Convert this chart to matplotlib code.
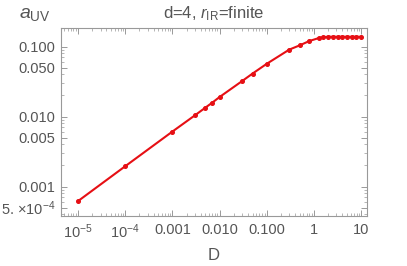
import matplotlib
matplotlib.use('Agg')
import matplotlib.pyplot as plt
import matplotlib.ticker as mticker
import numpy as np

# data
D = [1e-5, 1e-4, 1e-3, 3e-3, 5e-3, 7e-3, 0.01, 0.03, 0.05, 0.1, 0.3,
     0.5, 0.8, 1.26, 1.58, 2.0, 2.5, 3.16, 4.0, 5.0, 6.3, 7.9, 10]
aUV = [6.2e-4, 1.95e-3, 6.1e-3, 0.0104, 0.0134, 0.0158, 0.019, 0.0321, 0.0411,
       0.0567, 0.0904, 0.104, 0.12, 0.132, 0.136, 0.138, 0.138, 0.138, 0.138,
       0.138, 0.138, 0.138, 0.138]

xticks = [1e-5, 1e-4, 1e-3, 1e-2, 1e-1, 1, 10]
xticklabels = [r'$10^{-5}$', r'$10^{-4}$', '0.001', '0.010', '0.100', '1', '10']
yticks = [5e-4, 1e-3, 5e-3, 1e-2, 5e-2, 1e-1]
yticklabels = ['5. \u00d710$^{-4}$', '0.001', '0.005', '0.010', '0.050', '0.100']

plt.rcParams['font.family'] = ['Liberation Sans', 'DejaVu Sans']
plt.rcParams['mathtext.fontset'] = 'custom'
plt.rcParams['mathtext.rm'] = 'Liberation Sans'
plt.rcParams['mathtext.it'] = 'Liberation Sans:italic'

gray = '#999999'
txt = '#555555'

fig = plt.figure(figsize=(4.07, 2.66), dpi=100)
ax = fig.add_axes([0.150, 0.189, 0.752, 0.707])
ax.plot(D, aUV, color='#e60f14', lw=1.5, marker='o', ms=2.6)
ax.set_xscale('log')
ax.set_yscale('log')
ax.set_xlim(10**-5.36, 10**1.127)
ax.set_ylim(3.83e-4, 0.186)

ax.xaxis.set_major_locator(mticker.FixedLocator(xticks))
ax.xaxis.set_major_formatter(mticker.FixedFormatter(xticklabels))
ax.xaxis.set_minor_locator(mticker.LogLocator(subs=np.arange(2, 10), numticks=20))
ax.xaxis.set_minor_formatter(mticker.NullFormatter())
ax.yaxis.set_major_locator(mticker.FixedLocator(yticks))
ax.yaxis.set_major_formatter(mticker.FixedFormatter(yticklabels))
ax.yaxis.set_minor_locator(mticker.LogLocator(subs=np.arange(2, 10), numticks=20))
ax.yaxis.set_minor_formatter(mticker.NullFormatter())

for s in ax.spines.values():
    s.set_color(gray)
    s.set_linewidth(0.8)
ax.tick_params(which='both', direction='in', top=True, right=True,
               color=gray, labelcolor=txt, labelsize=10.5)
ax.tick_params(which='major', length=4, width=0.7, pad=5)
ax.tick_params(which='minor', length=2, width=0.5)
ax.tick_params(axis='y', which='major', pad=4)

fig.text(0.525, 0.95, r'd=4, $\mathit{r}_{\mathrm{IR}}$=finite', ha='center',
         va='center', color=txt, fontsize=12)
fig.text(0.086, 0.945, r'$\mathit{a}_{\mathrm{UV}}$', ha='center', va='center',
         color=txt, fontsize=14)
fig.text(0.524, 0.038, 'D', ha='center', va='center', color=txt, fontsize=12)

fig.savefig('out.png', dpi=100)
